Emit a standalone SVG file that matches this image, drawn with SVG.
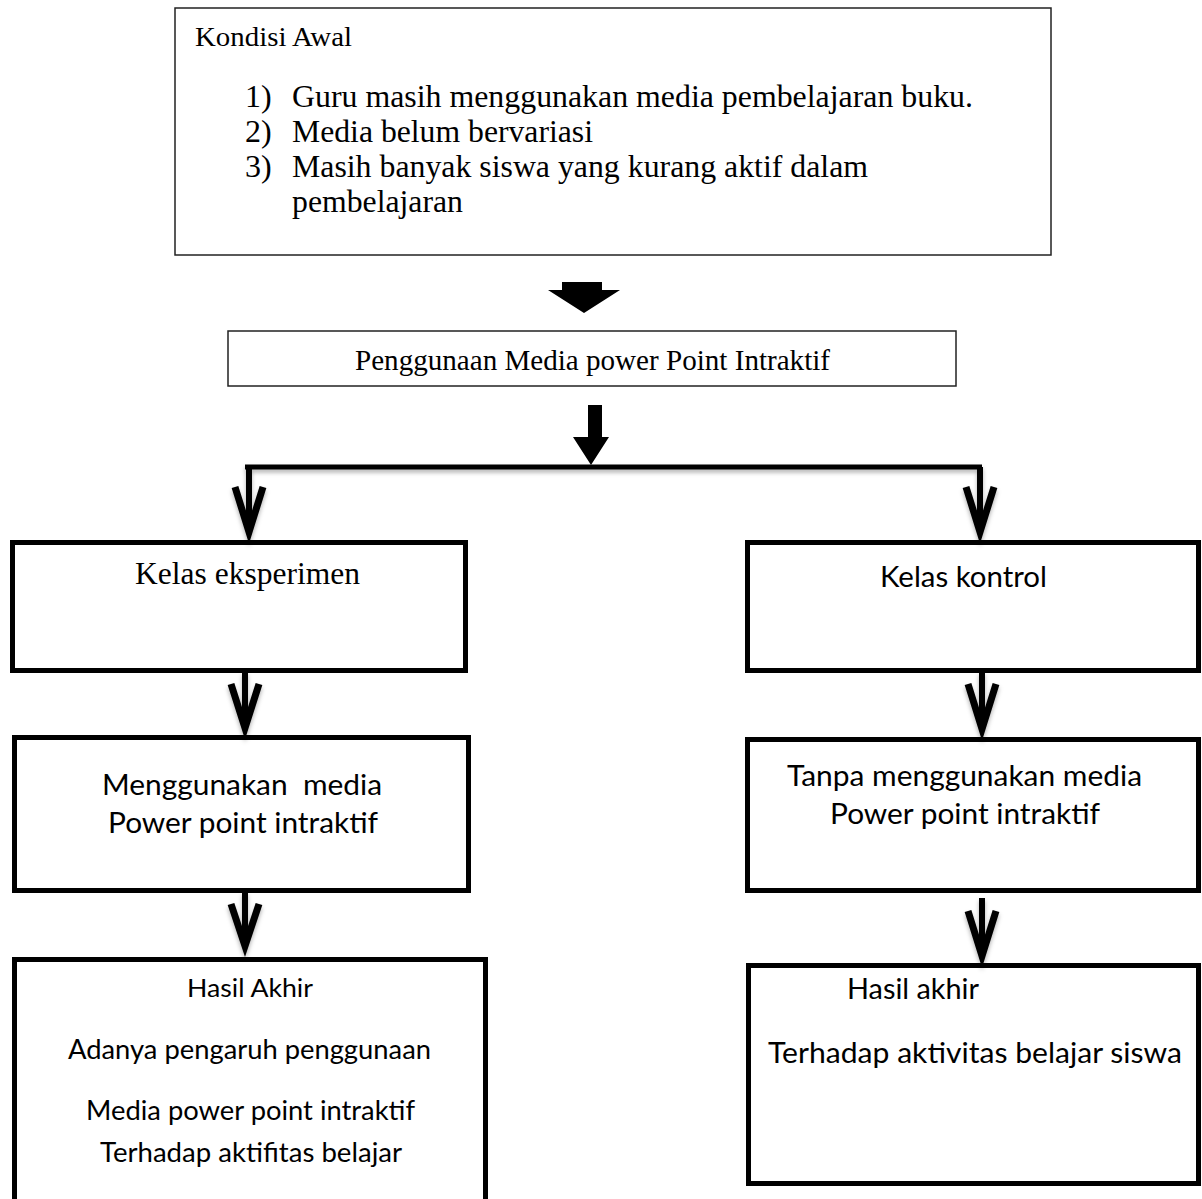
<svg xmlns="http://www.w3.org/2000/svg" width="1202" height="1199" viewBox="0 0 1202 1199">
<style>
.thin{fill:#fff;stroke:#222;stroke-width:1.5}
.thick{fill:#fff;stroke:#000;stroke-width:5}
.serif{font-family:"Liberation Serif","Times New Roman",serif;fill:#000}
.sans{font-family:"Lato","Open Sans",sans-serif;fill:#000}
.arr{fill:none;stroke:#000;stroke-width:7;stroke-linejoin:miter;stroke-miterlimit:10}
.shaft{fill:none;stroke:#000;stroke-width:6}
</style>
<defs>
<filter id="sh" x="-20%" y="-20%" width="140%" height="160%">
<feDropShadow dx="0" dy="3" stdDeviation="2" flood-color="#000" flood-opacity="0.3"/>
</filter>
</defs>
<rect width="1202" height="1199" fill="#fff"/>

<g id="kondisi-awal">
<rect class="thin" x="175" y="8" width="876" height="247"/>
<text class="serif" x="195" y="46" font-size="27" textLength="157" lengthAdjust="spacingAndGlyphs">Kondisi Awal</text>
<g class="serif" font-size="32">
<text x="245" y="107">1)</text>
<text x="292" y="107" textLength="681" lengthAdjust="spacingAndGlyphs">Guru masih menggunakan media pembelajaran buku.</text>
<text x="245" y="142">2)</text>
<text x="292" y="142" textLength="301" lengthAdjust="spacingAndGlyphs">Media belum bervariasi</text>
<text x="245" y="177">3)</text>
<text x="292" y="177" textLength="576" lengthAdjust="spacingAndGlyphs">Masih banyak siswa yang kurang aktif dalam</text>
<text x="292" y="212" textLength="171" lengthAdjust="spacingAndGlyphs">pembelajaran</text>
</g>
</g>

<g id="penggunaan-media">
<rect class="thin" x="228" y="331" width="728" height="55"/>
<text class="serif" x="355" y="370" font-size="29" textLength="475" lengthAdjust="spacingAndGlyphs">Penggunaan Media power Point Intraktif</text>
</g>

<g id="kelas-eksperimen">
<rect class="thick" x="12.5" y="542.5" width="453" height="128"/>
<text class="serif" x="135" y="584" font-size="31" textLength="225" lengthAdjust="spacingAndGlyphs">Kelas eksperimen</text>
</g>

<g id="kelas-kontrol">
<rect class="thick" x="747.5" y="542.5" width="451" height="128"/>
<text class="sans" x="880" y="587" font-size="28" textLength="167" lengthAdjust="spacingAndGlyphs">Kelas kontrol</text>
</g>

<g id="menggunakan-media">
<rect class="thick" x="14.5" y="737.5" width="454" height="153"/>
<text class="sans" x="102" y="795" font-size="28" textLength="280" lengthAdjust="spacingAndGlyphs" xml:space="preserve">Menggunakan  media</text>
<text class="sans" x="108" y="833" font-size="28" textLength="270" lengthAdjust="spacingAndGlyphs">Power point intraktif</text>
</g>

<g id="tanpa-media">
<rect class="thick" x="747.5" y="739.5" width="451" height="151"/>
<text class="sans" x="787" y="786" font-size="28" textLength="355" lengthAdjust="spacingAndGlyphs">Tanpa menggunakan media</text>
<text class="sans" x="830" y="824" font-size="28" textLength="270" lengthAdjust="spacingAndGlyphs">Power point intraktif</text>
</g>

<g id="hasil-akhir-kiri">
<path class="thick" d="M14.5,1205 L14.5,959.5 L485.5,959.5 L485.5,1205"/>
<text class="sans" x="187" y="997" font-size="25" textLength="126" lengthAdjust="spacingAndGlyphs">Hasil Akhir</text>
<text class="sans" x="68" y="1059" font-size="27" textLength="363" lengthAdjust="spacingAndGlyphs">Adanya pengaruh penggunaan</text>
<text class="sans" x="86" y="1120" font-size="27" textLength="329" lengthAdjust="spacingAndGlyphs">Media power point intraktif</text>
<text class="sans" x="100" y="1162" font-size="27" textLength="302" lengthAdjust="spacingAndGlyphs">Terhadap aktifitas belajar</text>
</g>

<g id="hasil-akhir-kanan">
<rect class="thick" x="748.5" y="965.5" width="450" height="218"/>
<text class="sans" x="847" y="999" font-size="28" textLength="132" lengthAdjust="spacingAndGlyphs">Hasil akhir</text>
<text class="sans" x="768" y="1063" font-size="28" textLength="414" lengthAdjust="spacingAndGlyphs">Terhadap aktivitas belajar siswa</text>
</g>

<g id="connectors">
<polygon points="562,282 602,282 602,290 620,290 584,313 548,290 562,290" fill="#000"/>
<polygon points="588,405 602,405 602,437 609,437 591,465 573,437 588,437" fill="#000"/>
<g filter="url(#sh)">
<line x1="245" y1="467" x2="982" y2="467" stroke="#000" stroke-width="5"/>
<line class="shaft" x1="249" y1="467" x2="249" y2="532"/>
<polyline class="arr" points="235,487 249,532 263,487"/>
<line class="shaft" x1="980" y1="467" x2="980" y2="532"/>
<polyline class="arr" points="966,487 980,532 994,487"/>
<line class="shaft" x1="245" y1="672" x2="245" y2="728"/>
<polyline class="arr" points="231,684 245,728 259,684"/>
<line class="shaft" x1="982" y1="672" x2="982" y2="729"/>
<polyline class="arr" points="968,684 982,729 996,684"/>
<line class="shaft" x1="245" y1="892" x2="245" y2="946"/>
<polyline class="arr" points="231,904 245,946 259,904"/>
<line class="shaft" x1="982" y1="898" x2="982" y2="956"/>
<polyline class="arr" points="968,911 982,956 996,911"/>
</g>
</g>
</svg>
